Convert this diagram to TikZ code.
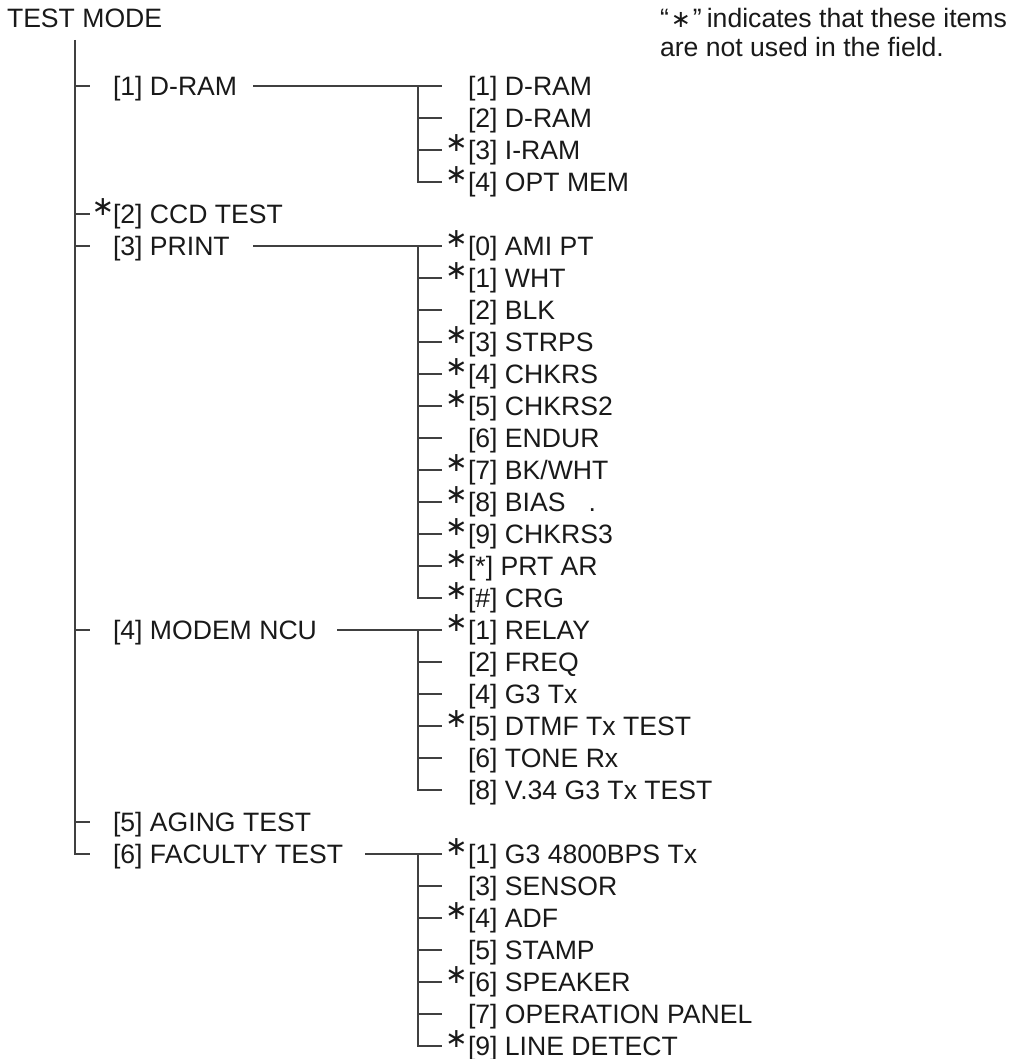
\documentclass[tikz,border=0pt]{standalone}
\usepackage{fontspec}
\setmainfont{Liberation Sans}
\newfontfamily\tmsymfont{DejaVu Sans}

\newcommand{\tmrow}[1]{\pgfmathsetmacro{\tmy}{86+32*#1}}
% #1 name, #2 row index, #3 vertical coordinate, #4 star flag, #5 text
\newcommand{\tmsub}[5]{%
  \tmrow{#2}%
  \coordinate (#1-t) at (442,\tmy);
  \node[lbl] (#1) at (468,\tmy+9.5) {#5};
  \ifnum#4=1 \node[astx] (#1-s) at (456.5,\tmy-7) {∗};\fi
}
\newcommand{\tmtop}[4]{%
  \tmrow{#2}%
  \coordinate (#1-t) at (90,\tmy);
  \node[lbl] (#1) at (113,\tmy+9.5) {#4};
  \ifnum#3=1 \node[astx] (#1-s) at (103,\tmy-7) {∗};\fi
}

\begin{document}
\begin{tikzpicture}[x=1pt,y=-1pt,
  lbl/.style={anchor=base west, inner sep=0pt, outer sep=0pt,
    font=\fontsize{26.6}{30}\selectfont, text=black!90},
  astx/.style={anchor=center, inner sep=0pt, outer sep=0pt,
    font=\tmsymfont\fontsize{27}{27}\selectfont, text=black!90},
  ln/.style={line width=1.3pt, draw=black!75}]
\useasboundingbox (0,0) rectangle (1019,1059);

% title and note
\node[lbl] (title) at (7,28) {TEST MODE};
\node[lbl] (note1) at (660,28) {“\hspace{2pt}{\tmsymfont\fontsize{24}{24}\selectfont ∗}\hspace{2pt}”\hspace{5pt}indicates that these items};
\node[lbl] (note2) at (660,57) {are not used in the field.};

% top level
\coordinate (main) at (75,40);
\tmtop{m1}{0}{0}{[1] D-RAM}
\tmtop{m2}{4}{1}{[2] CCD TEST}
\tmtop{m3}{5}{0}{[3] PRINT}
\tmtop{m4}{17}{0}{[4] MODEM NCU}
\tmtop{m5}{23}{0}{[5] AGING TEST}
\tmtop{m6}{24}{0}{[6] FACULTY TEST}

\draw[ln] (main) |- (m6-t);
\foreach \n in {m1,m2,m3,m4,m5} \draw[ln] (main |- \n-t) -- (\n-t);

% D-RAM
\tmsub{a1}{0}{av}{0}{[1] D-RAM}
\tmsub{a2}{1}{av}{0}{[2] D-RAM}
\tmsub{a3}{2}{av}{1}{[3] I-RAM}
\tmsub{a4}{3}{av}{1}{[4] OPT MEM}
\coordinate (av) at (418,86);
\coordinate (ac) at (253,86);
\draw[ln] (ac) -- (a1-t);
\draw[ln] (av) |- (a4-t);
\foreach \n in {a2,a3} \draw[ln] (av |- \n-t) -- (\n-t);

% PRINT
\tmsub{p0}{5}{pv}{1}{[0] AMI PT}
\tmsub{p1}{6}{pv}{1}{[1] WHT}
\tmsub{p2}{7}{pv}{0}{[2] BLK}
\tmsub{p3}{8}{pv}{1}{[3] STRPS}
\tmsub{p4}{9}{pv}{1}{[4] CHKRS}
\tmsub{p5}{10}{pv}{1}{[5] CHKRS2}
\tmsub{p6}{11}{pv}{0}{[6] ENDUR}
\tmsub{p7}{12}{pv}{1}{[7] BK/WHT}
\tmsub{p8}{13}{pv}{1}{[8] BIAS\hspace{23pt}.}
\tmsub{p9}{14}{pv}{1}{[9] CHKRS3}
\tmsub{pa}{15}{pv}{1}{[*] PRT AR}
\tmsub{pb}{16}{pv}{1}{[\#] CRG}
\coordinate (pv) at (418,246);
\coordinate (pc) at (253,246);
\draw[ln] (pc) -- (p0-t);
\draw[ln] (pv) |- (pb-t);
\foreach \n in {p1,p2,p3,p4,p5,p6,p7,p8,p9,pa} \draw[ln] (pv |- \n-t) -- (\n-t);

% MODEM NCU
\tmsub{n1}{17}{nv}{1}{[1] RELAY}
\tmsub{n2}{18}{nv}{0}{[2] FREQ}
\tmsub{n4}{19}{nv}{0}{[4] G3 Tx}
\tmsub{n5}{20}{nv}{1}{[5] DTMF Tx TEST}
\tmsub{n6}{21}{nv}{0}{[6] TONE Rx}
\tmsub{n8}{22}{nv}{0}{[8] V.34 G3 Tx TEST}
\coordinate (nv) at (418,630);
\coordinate (nc) at (337,630);
\draw[ln] (nc) -- (n1-t);
\draw[ln] (nv) |- (n8-t);
\foreach \n in {n2,n4,n5,n6} \draw[ln] (nv |- \n-t) -- (\n-t);

% FACULTY TEST
\tmsub{f1}{24}{fv}{1}{[1] G3 4800BPS Tx}
\tmsub{f3}{25}{fv}{0}{[3] SENSOR}
\tmsub{f4}{26}{fv}{1}{[4] ADF}
\tmsub{f5}{27}{fv}{0}{[5] STAMP}
\tmsub{f6}{28}{fv}{1}{[6] SPEAKER}
\tmsub{f7}{29}{fv}{0}{[7] OPERATION PANEL}
\tmsub{f9}{30}{fv}{1}{[9] LINE DETECT}
\coordinate (fv) at (418,854);
\coordinate (fc) at (365,854);
\draw[ln] (fc) -- (f1-t);
\draw[ln] (fv) |- (f9-t);
\foreach \n in {f3,f4,f5,f6,f7} \draw[ln] (fv |- \n-t) -- (\n-t);
\end{tikzpicture}
\end{document}
